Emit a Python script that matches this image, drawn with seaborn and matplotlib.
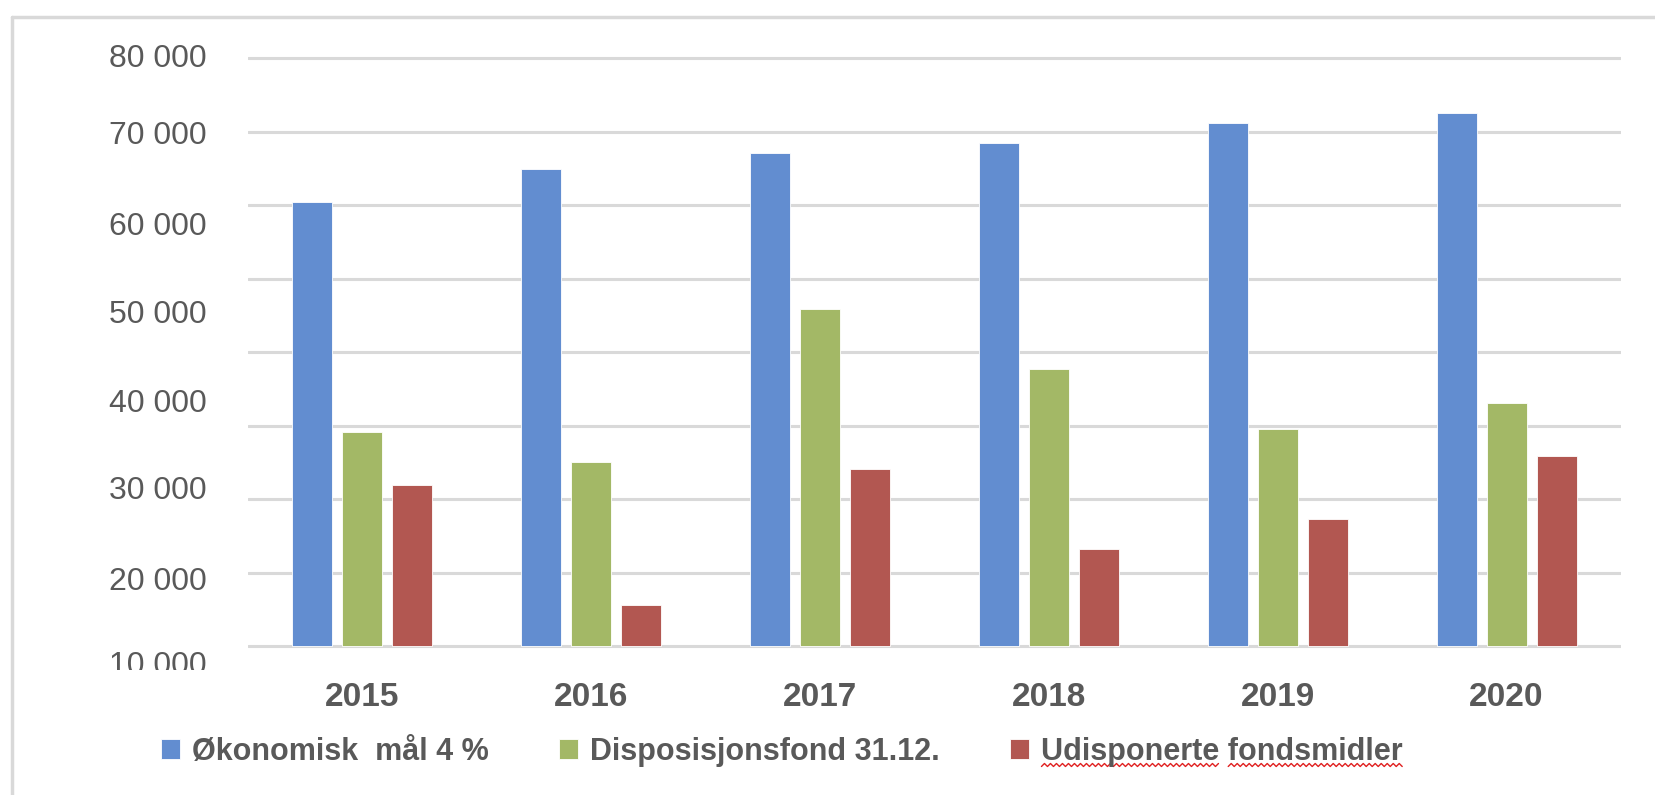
'''bar chart: økonomisk mål, disposisjonsfond og udisponerte fondsmidler 2015-2020'''
import matplotlib
matplotlib.use("Agg")
import matplotlib.pyplot as plt
from matplotlib.lines import Line2D
from matplotlib.ticker import MultipleLocator, FixedLocator
from matplotlib.transforms import Bbox, TransformedBbox
import seaborn as sb
import pandas as pd

years = ["2015", "2016", "2017", "2018", "2019", "2020"]
series = ["Økonomisk  mål 4 %", "Disposisjonsfond 31.12.", "Udisponerte fondsmidler"]
okonomisk_mal = [60400, 64900, 67100, 68500, 71100, 72500]
disposisjonsfond = [29100, 25000, 45800, 37700, 29500, 33100]
udisponerte = [21900, 5600, 24100, 13200, 17300, 25900]
# the y labels in the original sit a bit off the grid lines
ytick_labels = ["80 000", "70 000", "60 000", "50 000", "40 000", "30 000", "20 000", "10 000"]
ytick_pos = [80400, 69800, 57550, 45450, 33350, 21500, 9250, -2300]

colors = ["#628dd0", "#a3b866", "#b25751"]
text_col = "#595959"
grid_col = "#d9d9d9"

df = pd.DataFrame({
    "year": years * 3,
    "series": [series[0]] * 6 + [series[1]] * 6 + [series[2]] * 6,
    "value": okonomisk_mal + disposisjonsfond + udisponerte,
})

sb.set_theme(style="white")
bold_font = ["Liberation Sans", "DejaVu Sans"]
plt.rcParams["font.family"] = ["Liberation Sans", "DejaVu Sans"]

W, H = 1655, 795
fig = plt.figure(figsize=(W / 100, H / 100), dpi=100)
fig.patch.set_facecolor("white")

# axes placed so that 0 -> 646 px and 80 000 -> 58 px from the top
ymin, ymax = -2500, 80600
px_per = (646 - 58) / 80000
top_px = 646 - ymax * px_per
bot_px = 646 - ymin * px_per
ax = fig.add_axes([248 / W, 1 - bot_px / H, (1621 - 248) / W, (bot_px - top_px) / H])

sb.barplot(data=df, x="year", y="value", hue="series", palette=colors,
           width=0.656, gap=0.2, saturation=1, edgecolor="white", linewidth=0.6,
           ax=ax, zorder=3)
ax.set_ylim(ymin, ymax)
ax.set_xlabel("")
ax.set_ylabel("")
for s in ax.spines.values():
    s.set_visible(False)

ax.yaxis.set_minor_locator(MultipleLocator(10000))
ax.yaxis.set_major_locator(FixedLocator(ytick_pos))
ax.set_yticklabels(ytick_labels)
ax.grid(False)
ax.grid(which="minor", axis="y", color=grid_col, linewidth=2.2, zorder=0)
ax.tick_params(axis="y", which="both", length=0, pad=30, labelsize=23, labelcolor=text_col)
ax.tick_params(axis="x", length=0, pad=13, labelsize=24, labelcolor=text_col)
for lab in ax.get_xticklabels():
    lab.set_fontfamily(bold_font)
    lab.set_fontweight("bold")

# bottom label is cut off in the original
clip = TransformedBbox(Bbox([[0, 1 - 670 / H], [1, 1]]), fig.transFigure)
for lab in ax.get_yticklabels():
    lab.set_clip_box(clip)
    lab.set_clip_on(True)

handles, labels = ax.get_legend_handles_labels()
ax.get_legend().remove()
leg = fig.legend(handles, labels, loc="center", ncol=3, frameon=False,
                 bbox_to_anchor=(782 / W, 1 - 752 / H),
                 prop={"family": bold_font, "weight": "bold", "size": 22},
                 handlelength=0.62, handleheight=0.62, handletextpad=0.4,
                 columnspacing=2.3, labelcolor=text_col)

# outer frame (top and left edges)
fig.add_artist(Line2D([12 / W, 1], [1 - 17 / H, 1 - 17 / H], color=grid_col, lw=2.5))
fig.add_artist(Line2D([12 / W, 12 / W], [0, 1 - 17 / H], color=grid_col, lw=2.5))

# red spell-check squiggles under the last legend entry
fig.canvas.draw()
rend = fig.canvas.get_renderer()
txt = leg.get_texts()[2]
bb = txt.get_window_extent(rend)
fp = txt.get_fontproperties()
w_first = rend.get_text_width_height_descent("Udisponerte", fp, ismath=False)[0]
w_gap = rend.get_text_width_height_descent("Udisponerte ", fp, ismath=False)[0]
y_sq = bb.y0 + 2
for x0, x1 in [(bb.x0, bb.x0 + w_first), (bb.x0 + w_gap, bb.x1)]:
    xs, ys = [], []
    x, k = x0, 0
    while x <= x1:
        xs.append(x / W)
        ys.append((y_sq + (1.5 if k % 2 else -1.5)) / H)
        x += 3
        k += 1
    fig.add_artist(Line2D(xs, ys, color="#e02020", lw=1.0))

fig.savefig("out.png", dpi=100)
